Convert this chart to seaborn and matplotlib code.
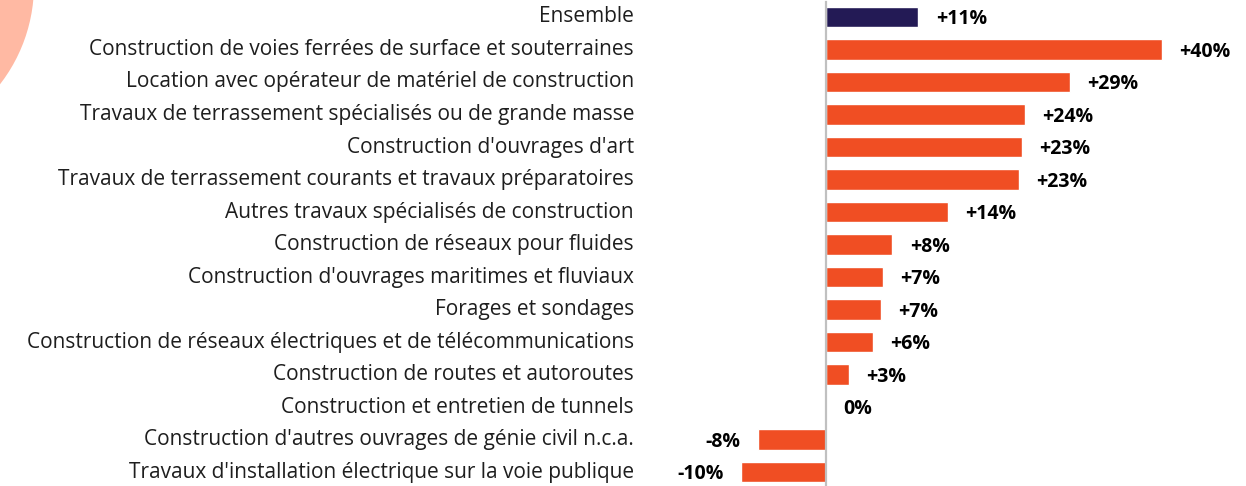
import matplotlib
matplotlib.use("Agg")
import matplotlib.pyplot as plt
import matplotlib.transforms as mtransforms
from matplotlib.patches import Ellipse
import seaborn as sns
import pandas as pd

categories = [
    "Ensemble",
    "Construction de voies ferrées de surface et souterraines",
    "Location avec opérateur de matériel de construction",
    "Travaux de terrassement spécialisés ou de grande masse",
    "Construction d'ouvrages d'art",
    "Travaux de terrassement courants et travaux préparatoires",
    "Autres travaux spécialisés de construction",
    "Construction de réseaux pour fluides",
    "Construction d'ouvrages maritimes et fluviaux",
    "Forages et sondages",
    "Construction de réseaux électriques et de télécommunications",
    "Construction de routes et autoroutes",
    "Construction et entretien de tunnels",
    "Construction d'autres ouvrages de génie civil n.c.a.",
    "Travaux d'installation électrique sur la voie publique",
]
values = [11.0, 40.0, 29.0, 23.7, 23.3, 23.0, 14.5, 7.9, 6.8, 6.5, 5.6, 2.7, 0.0, -8.1, -10.1]
labels = ["+11%", "+40%", "+29%", "+24%", "+23%", "+23%", "+14%", "+8%", "+7%",
          "+7%", "+6%", "+3%", "0%", "-8%", "-10%"]

NAVY = "#231a55"
ORANGE = "#f04e23"
colors = [NAVY] + [ORANGE] * (len(categories) - 1)

sns.set_style("white")
plt.rcParams["font.family"] = ["Open Sans", "DejaVu Sans"]

df = pd.DataFrame({"cat": categories, "val": values})

W, H = 1246, 486
fig = plt.figure(figsize=(W / 100, H / 100), dpi=100)

# decorative disc in the upper-left corner (sizes given in pixels)
R = 162
disc = Ellipse((-128 / W, 1 + 15 / H), 2 * R / W, 2 * R / H,
               transform=fig.transFigure, facecolor="#ffb9a3",
               edgecolor="none", zorder=0)
fig.patches.append(disc)

# axes placed so that zero sits at x=826 px with 8.4 px per percent
x0, xmin, xmax, ppu = 826, -14, 48, 8.4
left_px = x0 + xmin * ppu
right_px = x0 + xmax * ppu
row_px = 32.5
top_px = 17 - 0.45 * row_px
bot_px = 472 + 0.45 * row_px
ax = fig.add_axes([left_px / W, 1 - bot_px / H,
                   (right_px - left_px) / W, (bot_px - top_px) / H])
ax.patch.set_alpha(0)

sns.barplot(data=df, x="val", y="cat", hue="cat", palette=colors, legend=False,
            orient="h", width=0.62, saturation=1, ax=ax)

ax.set_xlim(xmin, xmax)
ax.set_ylim(len(categories) - 1 + 0.45, -0.45)
ax.set_xlabel("")
ax.set_ylabel("")
ax.set_xticks([])
ax.set_yticks([])
for s in ["top", "right", "bottom"]:
    ax.spines[s].set_visible(False)
ax.spines["left"].set_position(("data", 0))
ax.spines["left"].set_color("#c0c0c0")
ax.spines["left"].set_linewidth(1.6)

# small separators between rows, pointing into the plot
ax.set_yticks([i + 0.5 for i in range(len(categories) - 1)], minor=True)
ax.tick_params(axis="y", which="minor", direction="in", length=4, width=1.2,
               color="#c0c0c0", labelleft=False)

# category names, right-aligned left of the chart
tr = mtransforms.blended_transform_factory(fig.transFigure, ax.transData)
for i, name in enumerate(categories):
    ax.text(634 / W, i, name, transform=tr, ha="right", va="center",
            fontsize=15, color="#1e1e1e", clip_on=False)

# value labels at the bar ends
for i, (v, lab) in enumerate(zip(values, labels)):
    if v < 0:
        ax.annotate(lab, (v, i), xytext=(-12.5, -1.5), textcoords="offset points",
                    ha="right", va="center", fontsize=14, fontweight="bold",
                    color="black", annotation_clip=False)
    else:
        ax.annotate(lab, (v, i), xytext=(12.5, -1.5), textcoords="offset points",
                    ha="left", va="center", fontsize=14, fontweight="bold",
                    color="black", annotation_clip=False)

fig.savefig("out.png", dpi=100)
